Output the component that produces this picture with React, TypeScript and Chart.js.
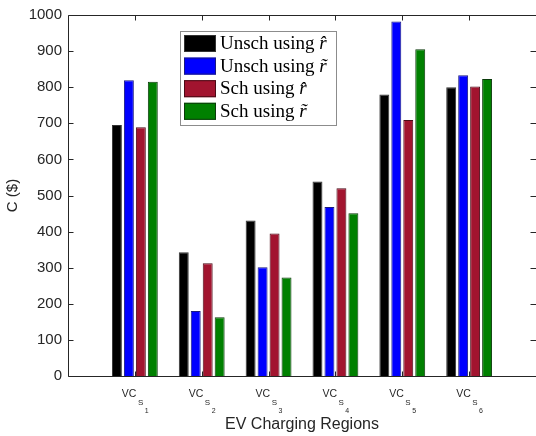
import React, { useEffect, useRef } from "react";
import { Chart, registerables } from "chart.js";

Chart.register(...registerables);

const categories = ["1", "2", "3", "4", "5", "6"];
const unschHat = [695, 343, 431, 539, 780, 800];
const unschTilde = [819, 180, 301, 468, 982, 833];
const schHat = [689, 312, 395, 520, 709, 802];
const schTilde = [815, 163, 273, 451, 905, 823];

const seriesLabels = ["Unsch using ", "Unsch using ", "Sch using ", "Sch using "];
const seriesSymbols = ["r\u0302", "r\u0303", "r\u0302", "r\u0303"];
const seriesColors = ["#000000", "#0000ff", "#a2142f", "#008000"];
const seriesBorders = ["#333333", "#1a1a80", "#4a0a16", "#0a3a0a"];

const yMin = 0;
const yMax = 1000;
const yStep = 100;

const AXIS_COLOR = "#262626";
const SANS = "'Liberation Sans', Arial, sans-serif";
const SERIF = "'Liberation Serif', 'Times New Roman', serif";

const decorPlugin = {
  id: "decor",
  afterDraw(chart: any) {
    const { ctx, chartArea } = chart;
    const { left, top, bottom } = chartArea;
    const xs = chart.scales.x;
    const ys = chart.scales.y;
    ctx.save();
    ctx.strokeStyle = AXIS_COLOR;
    ctx.lineWidth = 1;
    const L = Math.round(left) + 0.5;
    const R = chart.width + 0.5;
    const T = Math.round(top) + 0.5;
    const B = Math.round(bottom) + 0.5;
    ctx.beginPath();
    ctx.moveTo(L, T);
    ctx.lineTo(R, T);
    ctx.lineTo(R, B);
    ctx.lineTo(L, B);
    ctx.closePath();
    ctx.stroke();
    const tl = 5;
    ctx.beginPath();
    for (let v = yMin; v <= yMax; v += yStep) {
      const py = Math.round(ys.getPixelForValue(v)) + 0.5;
      ctx.moveTo(L, py);
      ctx.lineTo(L + tl, py);
      ctx.moveTo(R, py);
      ctx.lineTo(R - tl - 1, py);
    }
    for (let i = 1; i <= categories.length; i++) {
      const px = Math.round(xs.getPixelForValue(i)) + 0.5;
      ctx.moveTo(px, B);
      ctx.lineTo(px, B - tl);
      ctx.moveTo(px, T);
      ctx.lineTo(px, T + tl);
    }
    ctx.stroke();

    // x labels: VC_{S_i}
    ctx.fillStyle = AXIS_COLOR;
    ctx.textBaseline = "alphabetic";
    ctx.textAlign = "left";
    for (let i = 1; i <= categories.length; i++) {
      const px = xs.getPixelForValue(i);
      const x0 = px - 13;
      ctx.font = `10.5px ${SANS}`;
      ctx.fillText("VC", x0, 397);
      const w1 = ctx.measureText("VC").width;
      ctx.font = `8px ${SANS}`;
      ctx.fillText("S", x0 + w1 + 1.5, 405);
      const w2 = ctx.measureText("S").width;
      ctx.font = `7px ${SANS}`;
      ctx.fillText(categories[i - 1], x0 + w1 + w2 + 3, 412.5);
    }

    // legend
    const lx = 180.5, ly = 31.5, lw = 156, lh = 94;
    ctx.fillStyle = "#ffffff";
    ctx.fillRect(lx, ly, lw, lh);
    ctx.strokeStyle = "#8c8c8c";
    ctx.strokeRect(lx, ly, lw, lh);
    chart.data.datasets.forEach((ds: any, i: number) => {
      const sy = 35 + i * 22.6;
      ctx.fillStyle = ds.backgroundColor;
      ctx.fillRect(184, sy, 32, 17);
      ctx.strokeStyle = ds.borderColor;
      ctx.strokeRect(184.5, sy + 0.5, 31, 16);
      ctx.fillStyle = "#000000";
      ctx.textBaseline = "middle";
      ctx.font = `19px ${SERIF}`;
      ctx.fillText(seriesLabels[i], 220, sy + 9);
      const tw = ctx.measureText(seriesLabels[i]).width;
      ctx.font = `italic 19px ${SERIF}`;
      ctx.fillText(seriesSymbols[i], 220 + tw, sy + 9);
    });
    ctx.restore();
  },
};

export default function App() {
  const ref = useRef<HTMLCanvasElement>(null);
  useEffect(() => {
    document.body.style.margin = "0";
    const canvas = ref.current!;
    const pad = (arr: number[]) => [null, ...arr, null];
    const all = [unschHat, unschTilde, schHat, schTilde];
    const chart = new Chart(canvas, {
      type: "bar",
      data: {
        labels: ["", ...categories, ""],
        datasets: all.map((vals, i) => ({
          label: seriesLabels[i] + seriesSymbols[i],
          data: pad(vals) as any,
          backgroundColor: seriesColors[i],
          borderColor: seriesBorders[i],
          borderWidth: 1,
          categoryPercentage: 0.716,
          barPercentage: 0.83,
        })),
      },
      options: {
        responsive: false,
        animation: false,
        devicePixelRatio: 1,
        layout: { padding: { top: 15, right: 0, left: 0, bottom: 0 } },
        plugins: {
          legend: { display: false },
          tooltip: { enabled: false },
        },
        scales: {
          x: {
            type: "category",
            offset: false,
            grid: { display: false, offset: false },
            border: { display: false },
            ticks: { display: false },
            title: {
              display: true,
              text: "EV Charging Regions",
              color: AXIS_COLOR,
              font: { family: SANS, size: 16 },
              padding: { top: 0, bottom: 1.5 },
            },
            afterFit: (s: any) => {
              s.height = 60;
            },
          },
          y: {
            min: yMin,
            max: yMax,
            grid: { display: false, drawTicks: false },
            border: { display: false },
            ticks: {
              stepSize: yStep,
              padding: 6,
              color: AXIS_COLOR,
              font: { family: SANS, size: 15 },
              callback: (v: any) => String(v),
            },
            title: {
              display: true,
              text: "C ($)",
              color: AXIS_COLOR,
              font: { family: SANS, size: 15 },
              padding: { top: 4, bottom: 0 },
            },
            afterFit: (s: any) => {
              s.width = 68;
            },
          },
        },
      },
      plugins: [decorPlugin],
    });
    return () => chart.destroy();
  }, []);
  return <canvas ref={ref} width={536} height={436} style={{ display: "block", width: 536, height: 436 }} />;
}
